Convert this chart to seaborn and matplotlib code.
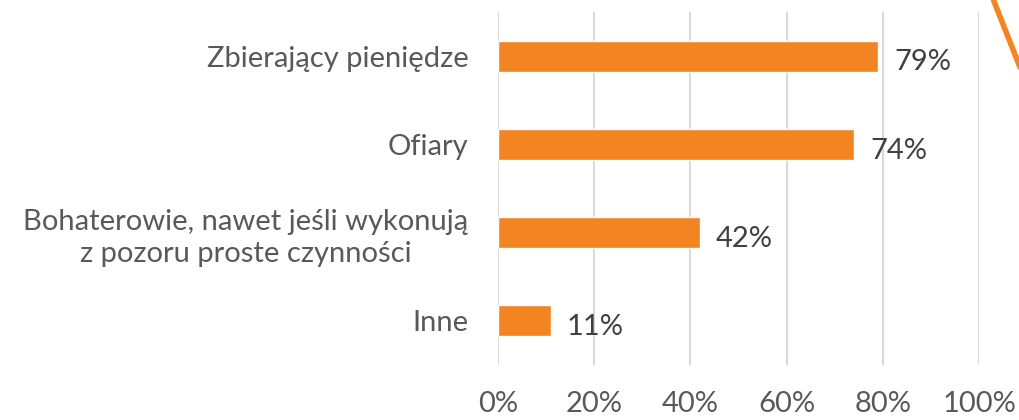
import matplotlib
matplotlib.use("Agg")
import matplotlib.pyplot as plt
import seaborn as sns
import pandas as pd
from matplotlib.lines import Line2D

categories = ["Zbierający pieniędze", "Ofiary",
              "Bohaterowie, nawet jeśli wykonują\nz pozoru proste czynności", "Inne"]
values = [79, 74, 42, 11]
xticks = [0, 20, 40, 60, 80, 100]
xtick_labels = ["0%", "20%", "40%", "60%", "80%", "100%"]

df = pd.DataFrame({"cat": categories, "val": values})

sns.set_theme(style="white")
plt.rcParams['font.family'] = ['Lato', 'DejaVu Sans']

fig = plt.figure(figsize=(10.2, 4.2), dpi=100)
ax = fig.add_axes([0.488, 0.131, 0.472, 0.840])

sns.barplot(data=df, x="val", y="cat", color="#F28522", saturation=1,
            width=0.35, ax=ax, orient="h")

ax.set_xlim(0, 100)
ax.set_ylim(3.5, -0.5)
ax.set_xticks(xticks)
ax.set_xticklabels(xtick_labels)
ax.xaxis.grid(True, color="#D9D9D9", linewidth=1.5)
ax.set_axisbelow(True)
for s in ax.spines.values():
    s.set_visible(False)
ax.tick_params(axis="both", length=0)
ax.tick_params(axis="x", labelsize=21, labelcolor="#595959", pad=19)
ax.tick_params(axis="y", labelsize=21, labelcolor="#595959", pad=21)
for lbl in ax.get_yticklabels():
    lbl.set_multialignment("center")
    lbl.set_linespacing(1.3)
ax.set_xlabel("")
ax.set_ylabel("")

for i, v in enumerate(values):
    ax.text(v + 3.3, i + 0.04, f"{v}%", va="center_baseline", ha="left",
            fontsize=21, color="#404040")

fig.add_artist(Line2D([0.974, 1.0], [1.0, 0.84], transform=fig.transFigure,
                      color="#F28522", linewidth=4))

fig.savefig("out.png", dpi=100)
